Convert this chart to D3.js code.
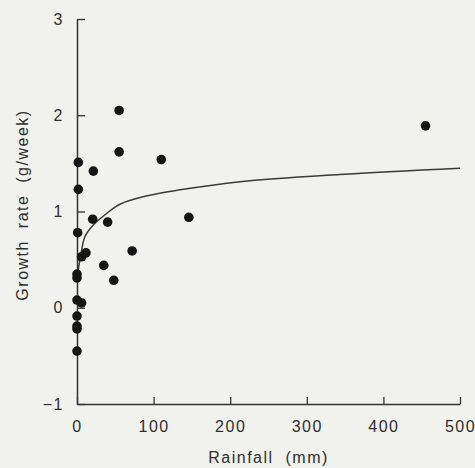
<!DOCTYPE html>
<html>
<head>
<meta charset="utf-8">
<script src="https://cdn.jsdelivr.net/npm/d3@7"></script>
<style>
  html, body { margin: 0; padding: 0; background: #f1f1ed; }
  svg { display: block; }
  text { font-family: "Liberation Sans", Arial, sans-serif; fill: #2e2e2e; }
</style>
</head>
<body>
<svg id="chart" width="475" height="468"></svg>
<script>
// Observed points: rainfall (mm) and growth rate (g/week)
const rainfall = [55, 55, 110, 1.7, 21.3, 1.7, 20.5, 40, 146, 0.9, 455, 6, 11.7, 72, 35, 48, 0, 0, 0, 6, 0, 0, 0, 0];
const growth   = [2.05, 1.62, 1.54, 1.51, 1.42, 1.23, 0.92, 0.89, 0.94, 0.78, 1.89, 0.53, 0.57, 0.59, 0.44, 0.285, 0.35, 0.31, 0.08, 0.05, -0.086, -0.19, -0.22, -0.45];

// Fitted curve
const curveX = [0.4, 3, 6.1, 10.4, 21.3, 38.8, 56, 90, 134.5, 213, 343, 500];
const curveY = [0.32, 0.46, 0.60, 0.74, 0.86, 0.98, 1.075, 1.16, 1.225, 1.31, 1.385, 1.45];

const xTicks = [0, 100, 200, 300, 400, 500];
const yTicks = [-1, 0, 1, 2, 3];
const xTitle = "Rainfall\u00a0 (mm)";
const yTitle = "Growth\u00a0 rate\u00a0 (g/week)";

const svg = d3.select("#chart");
const x = d3.scaleLinear().domain([0, 500]).range([77, 460]);
const y = d3.scaleLinear().domain([-1, 3]).range([404, 19]);

const fontSize = "16px";
const ls = "1.5px";

// X axis
const xAxis = svg.append("g")
  .attr("transform", `translate(0,${y(-1)})`)
  .call(d3.axisBottom(x).tickValues(xTicks).tickSizeInner(-7).tickSizeOuter(0).tickPadding(17).tickFormat(d3.format("d")));
xAxis.select(".domain").attr("stroke", "#333").attr("stroke-width", 1.5);
xAxis.selectAll(".tick line").attr("stroke", "#333").attr("stroke-width", 1.3);
xAxis.selectAll(".tick text")
  .attr("font-size", fontSize).attr("letter-spacing", ls)
  .attr("font-family", "Liberation Sans, Arial, sans-serif").attr("fill", "#2e2e2e");

// Y axis
const yAxis = svg.append("g")
  .attr("transform", `translate(${x(0)},0)`)
  .call(d3.axisLeft(y).tickValues(yTicks).tickSizeInner(-8).tickSizeOuter(0).tickPadding(13)
    .tickFormat(d => d < 0 ? "\u2212" + Math.abs(d) : String(d)));
yAxis.select(".domain").attr("stroke", "#333").attr("stroke-width", 1.5);
yAxis.selectAll(".tick line").attr("stroke", "#333").attr("stroke-width", 1.3);
yAxis.selectAll(".tick text")
  .attr("font-size", fontSize).attr("letter-spacing", ls)
  .attr("font-family", "Liberation Sans, Arial, sans-serif").attr("fill", "#2e2e2e");

// Axis titles
svg.append("text")
  .attr("x", (x(0) + x(500)) / 2)
  .attr("y", 463)
  .attr("text-anchor", "middle")
  .attr("font-size", fontSize).attr("letter-spacing", ls)
  .text(xTitle);

svg.append("text")
  .attr("transform", `translate(28,${205}) rotate(-90)`)
  .attr("text-anchor", "middle")
  .attr("font-size", fontSize).attr("letter-spacing", ls)
  .text(yTitle);

// Curve
const curveData = curveX.map((d, i) => [d, curveY[i]]);
svg.append("path")
  .datum(curveData)
  .attr("fill", "none")
  .attr("stroke", "#3a3a3a")
  .attr("stroke-width", 1.5)
  .attr("d", d3.line().x(d => x(d[0])).y(d => y(d[1])).curve(d3.curveCatmullRom.alpha(0.5)));

// Points
const pts = rainfall.map((d, i) => [d, growth[i]]);
svg.append("g").selectAll("circle")
  .data(pts)
  .join("circle")
  .attr("cx", d => x(d[0]))
  .attr("cy", d => y(d[1]))
  .attr("r", 4.8)
  .attr("fill", "#151515");
</script>
</body>
</html>
